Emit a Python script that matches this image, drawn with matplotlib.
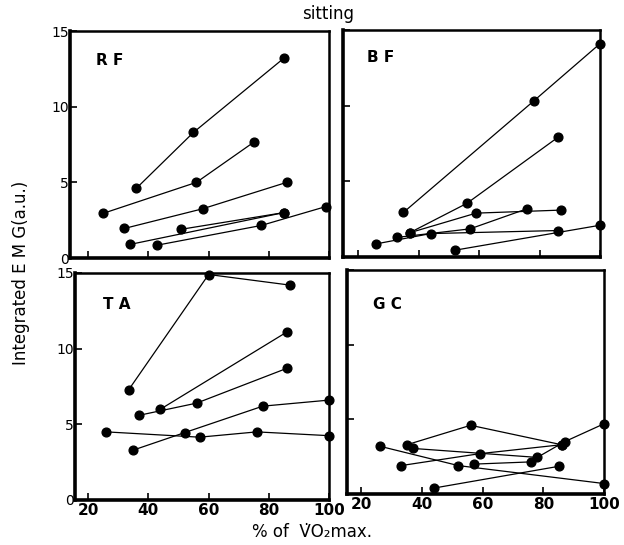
import matplotlib

matplotlib.use("Agg")
import matplotlib.pyplot as plt

# ---- data: per muscle, one list of (x, y) per subject ----
RF_X = [[36, 55, 85], [25, 56, 75], [32, 58, 86], [51, 85], [34, 85], [43, 77.5, 99]]
RF_Y = [[4.6, 8.3, 13.2], [2.95, 5.0, 7.65], [1.95, 3.25, 5.0], [1.9, 3.0], [0.9, 3.0], [0.85, 2.15, 3.4]]

BF_X = [[35, 78, 100], [37, 56, 86], [37, 59, 87], [26, 44, 86], [33, 57, 76], [52, 100]]
BF_Y = [[2.95, 10.3, 14.1], [1.6, 3.55, 7.9], [1.6, 2.9, 3.1], [0.87, 1.55, 1.75], [1.3, 1.86, 3.2], [0.45, 2.1]]

TA_X = [[33.5, 60, 87], [37, 56, 86], [44, 86], [26, 57, 76, 100], [35, 52, 78, 100]]
TA_Y = [[7.3, 14.9, 14.2], [5.6, 6.4, 8.7], [6.0, 11.1], [4.5, 4.15, 4.5, 4.25], [3.3, 4.45, 6.2, 6.6]]

GC_X = [[26, 52, 100], [35, 56, 86], [37, 78, 87, 100], [33, 59, 86], [57, 76], [44, 85]]
GC_Y = [[3.2, 1.9, 0.7], [3.3, 4.6, 3.3], [3.05, 2.45, 3.5, 4.7], [1.9, 2.7, 3.3], [2.0, 2.15], [0.4, 1.85]]

X_TICKS = [20, 40, 60, 80, 100]
Y_TICKS = [0, 5, 10, 15]

# panel name, data, axes rect (fig fraction), x-left limit, label pos, show x labels, show y labels
panels = [
    ("R F", RF_X, RF_Y, [0.1122, 0.5266, 0.415, 0.4165], 14, (0.10, 0.905), False, True),
    ("B F", BF_X, BF_Y, [0.5497, 0.5284, 0.4119, 0.4165], 15, (0.095, 0.91), False, False),
    ("T A", TA_X, TA_Y, [0.1202, 0.0826, 0.407, 0.4165], 15.6, (0.11, 0.895), True, True),
    ("G C", GC_X, GC_Y, [0.556, 0.0936, 0.4119, 0.411], 15.2, (0.10, 0.88), True, False),
]

fig = plt.figure(figsize=(6.24, 5.45), dpi=100)

for name, xs, ys, rect, xmin, lpos, xlab, ylab in panels:
    ax = fig.add_axes(rect)
    for x, y in zip(xs, ys):
        ax.plot(x, y, "-", c="black", lw=0.9, marker="o", ms=6.3, mfc="black",
                mec="black", clip_on=False, zorder=3)
    ax.set_xlim(xmin, 100)
    ax.set_ylim(0, 15)
    ax.set_xticks(X_TICKS)
    ax.set_yticks(Y_TICKS)
    ax.tick_params(direction="in", length=5, width=1.2, pad=2)
    if xlab:
        ax.set_xticklabels([str(t) for t in X_TICKS], fontsize=11, fontweight="bold")
    else:
        ax.set_xticklabels([])
    if ylab:
        ax.set_yticklabels([str(t) for t in Y_TICKS], fontsize=10)
        ax.tick_params(axis="y", pad=1)
    else:
        ax.set_yticklabels([])
    for side in ("left", "bottom"):
        ax.spines[side].set_linewidth(2.6)
    for side in ("top", "right"):
        ax.spines[side].set_linewidth(1.8)
    ax.text(lpos[0], lpos[1], name, transform=ax.transAxes, fontsize=11,
            fontweight="bold", va="top", ha="left")

fig.text(0.525, 0.975, "sitting", fontsize=12, ha="center", va="center")
fig.text(0.034, 0.5, "Integrated E M G(a.u.)", fontsize=12, rotation=90,
         ha="center", va="center")
fig.text(0.5, 0.008, "% of  V\u0307O\u2082max.", fontsize=12,
         ha="center", va="bottom")

fig.savefig("out.png", dpi=100)
